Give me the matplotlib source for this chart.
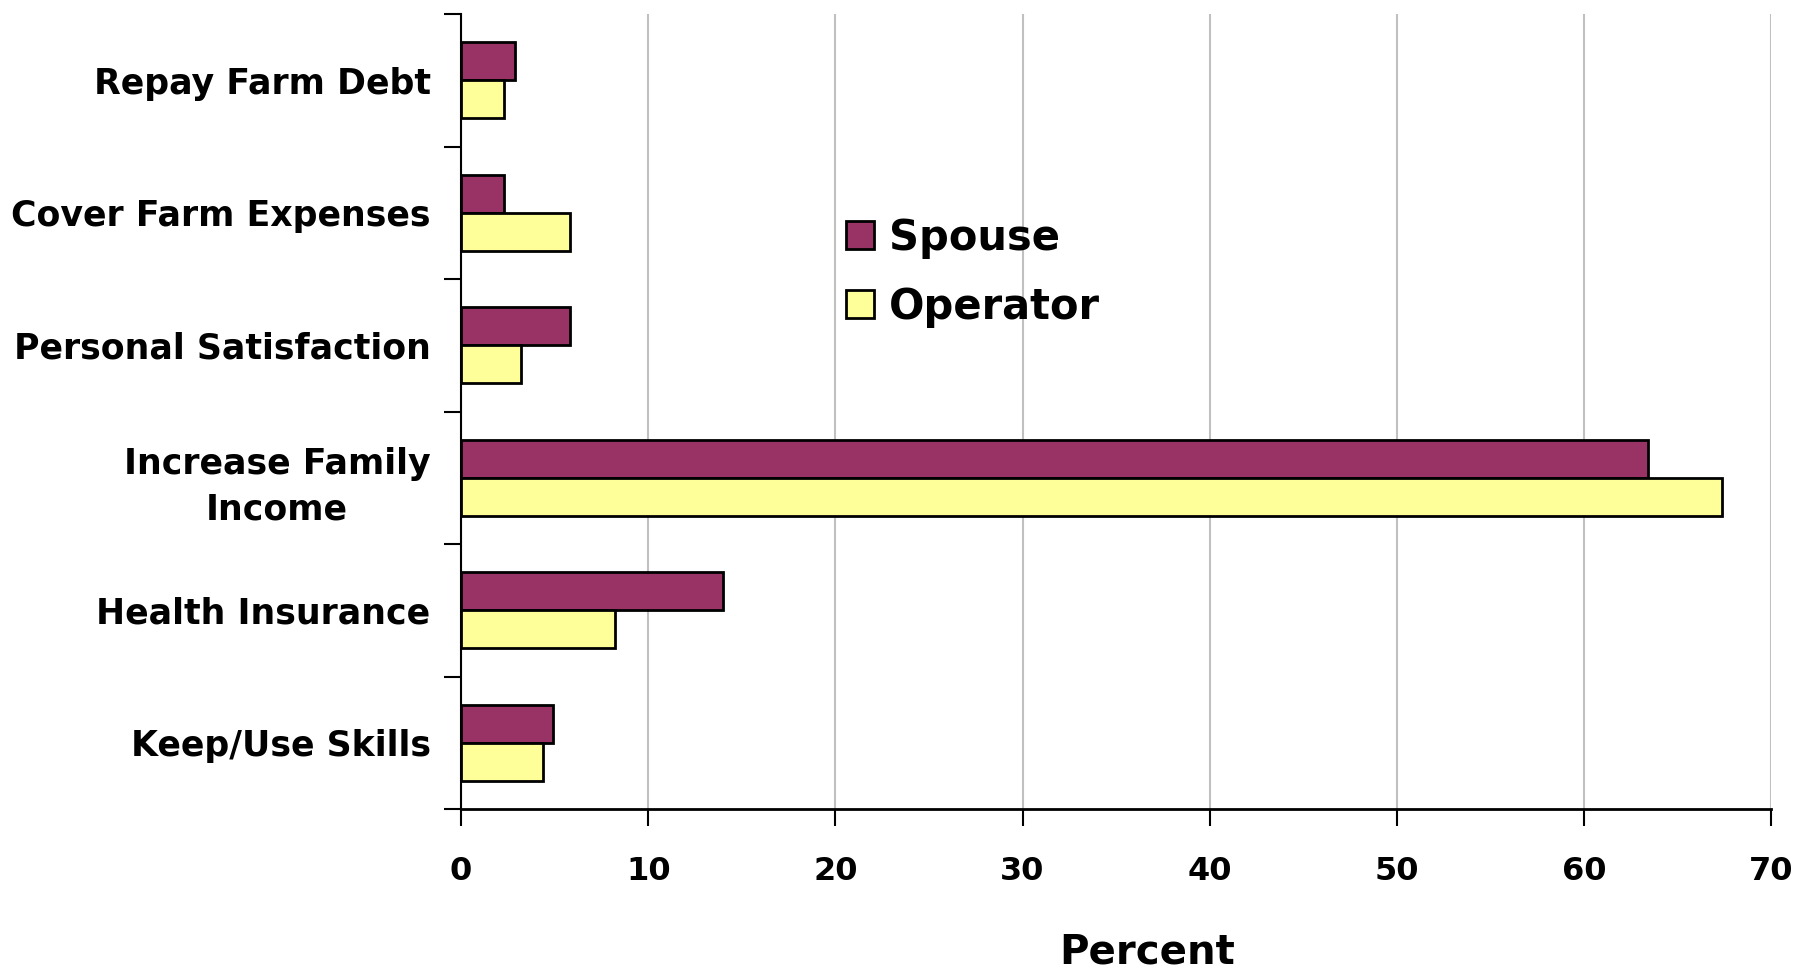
import numpy as np
import matplotlib.pyplot as plt

categories = ["Repay Farm Debt", "Cover Farm Expenses", "Personal Satisfaction",
              "Increase Family\nIncome", "Health Insurance", "Keep/Use Skills"]
spouse = [2.9, 2.3, 5.8, 63.4, 14.0, 4.9]
operator = [2.3, 5.8, 3.2, 67.4, 8.2, 4.4]

plt.rcParams['font.family'] = ['DejaVu Sans']
plt.rcParams['font.weight'] = 'bold'

fig = plt.figure(figsize=(17.99, 9.74), dpi=100)
ax = fig.add_axes([0.2563, 0.1694, 0.7282, 0.8162])

y = np.arange(len(categories))
h = 0.286
ax.barh(y - h / 2, spouse, height=h, color="#993366", edgecolor="black",
        linewidth=2, label="Spouse", zorder=3)
ax.barh(y + h / 2, operator, height=h, color="#FFFF99", edgecolor="black",
        linewidth=2, label="Operator", zorder=3)

ax.set_ylim(len(categories) - 0.5, -0.5)
ax.set_xlim(0, 70)
ax.set_xticks(range(0, 71, 10))
ax.set_yticks(np.arange(-0.5, len(categories), 1))
ax.set_yticklabels([])
ax.set_yticks(y, minor=True)
ax.set_yticklabels(categories, minor=True, fontsize=25, fontweight='bold',
                   ha='right', multialignment='center', linespacing=1.4)
ax.tick_params(axis='y', which='minor', length=0, pad=22)
ax.tick_params(axis='y', which='major', length=12, width=1.5, direction='out')
ax.tick_params(axis='x', length=12, width=1.5, direction='out', pad=22,
               labelsize=23)
for lbl in ax.get_xticklabels():
    lbl.set_fontweight('bold')

ax.grid(axis='x', color='#c0c0c0', linewidth=1.5, zorder=0)
for s in ['top', 'right']:
    ax.spines[s].set_visible(False)
ax.spines['left'].set_linewidth(1.5)
ax.spines['bottom'].set_linewidth(2)

ax.set_xlabel("Percent", fontsize=29, fontweight='bold')
ax.xaxis.set_label_coords(0.524, -0.155)

ax.legend(loc='center left', bbox_to_anchor=(0.278, 0.675), frameon=False,
          prop={'size': 30, 'weight': 'bold'}, handlelength=0.66,
          handleheight=0.66, handletextpad=0.36, labelspacing=0.65,
          borderpad=0)

fig.savefig("out.png", dpi=100, facecolor="white")
